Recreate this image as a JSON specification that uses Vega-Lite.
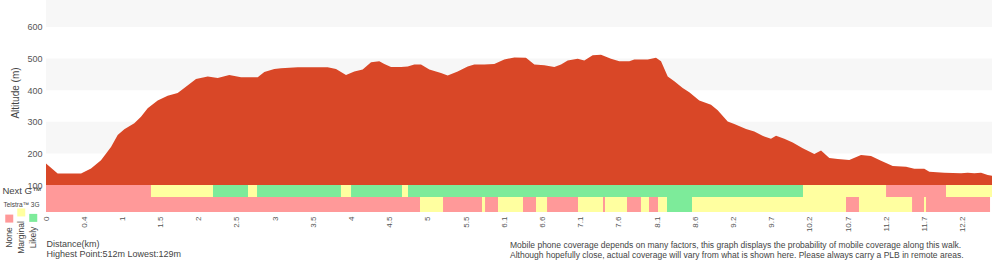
{
  "$schema": "https://vega.github.io/schema/vega-lite/v6.json",
  "padding": {"left": 1, "top": 0, "right": 5, "bottom": 0},
  "background": "white",
  "config": {
    "view": {"stroke": null},
    "font": "Liberation Sans",
    "axis": {"grid": false, "ticks": false, "domain": false},
    "axisY": {"labelOverlap": false}
  },
  "datasets": {
    "profile": [
      {"km": 0, "alt": 168}, {"km": 0.155, "alt": 136}, {"km": 0.466, "alt": 136}, {"km": 0.599, "alt": 152},
      {"km": 0.732, "alt": 178}, {"km": 0.865, "alt": 220}, {"km": 0.954, "alt": 258}, {"km": 1.042, "alt": 276},
      {"km": 1.175, "alt": 295}, {"km": 1.264, "alt": 316}, {"km": 1.353, "alt": 343}, {"km": 1.486, "alt": 367},
      {"km": 1.619, "alt": 382}, {"km": 1.752, "alt": 391}, {"km": 1.84, "alt": 407}, {"km": 1.996, "alt": 435},
      {"km": 2.152, "alt": 443}, {"km": 2.285, "alt": 438}, {"km": 2.439, "alt": 448}, {"km": 2.595, "alt": 441},
      {"km": 2.817, "alt": 441}, {"km": 2.905, "alt": 457}, {"km": 3.038, "alt": 467}, {"km": 3.127, "alt": 469},
      {"km": 3.349, "alt": 472}, {"km": 3.748, "alt": 472}, {"km": 3.859, "alt": 467}, {"km": 3.992, "alt": 448},
      {"km": 4.103, "alt": 459}, {"km": 4.214, "alt": 465}, {"km": 4.325, "alt": 488}, {"km": 4.435, "alt": 491},
      {"km": 4.502, "alt": 483}, {"km": 4.591, "alt": 473}, {"km": 4.724, "alt": 473}, {"km": 4.813, "alt": 475},
      {"km": 4.901, "alt": 481}, {"km": 4.99, "alt": 481}, {"km": 5.101, "alt": 465}, {"km": 5.256, "alt": 454},
      {"km": 5.345, "alt": 446}, {"km": 5.478, "alt": 459}, {"km": 5.611, "alt": 475}, {"km": 5.699, "alt": 481},
      {"km": 5.832, "alt": 481}, {"km": 5.965, "alt": 483}, {"km": 6.098, "alt": 497}, {"km": 6.232, "alt": 503},
      {"km": 6.387, "alt": 502}, {"km": 6.498, "alt": 481}, {"km": 6.631, "alt": 479}, {"km": 6.764, "alt": 473},
      {"km": 6.853, "alt": 481}, {"km": 6.942, "alt": 494}, {"km": 7.075, "alt": 499}, {"km": 7.163, "alt": 494},
      {"km": 7.274, "alt": 510}, {"km": 7.385, "alt": 512}, {"km": 7.518, "alt": 499}, {"km": 7.629, "alt": 491},
      {"km": 7.762, "alt": 491}, {"km": 7.828, "alt": 497}, {"km": 8.007, "alt": 497}, {"km": 8.117, "alt": 502},
      {"km": 8.184, "alt": 491}, {"km": 8.273, "alt": 443}, {"km": 8.361, "alt": 428}, {"km": 8.472, "alt": 407},
      {"km": 8.56, "alt": 393}, {"km": 8.693, "alt": 367}, {"km": 8.849, "alt": 354}, {"km": 8.938, "alt": 336},
      {"km": 9.071, "alt": 301}, {"km": 9.159, "alt": 293}, {"km": 9.315, "alt": 277}, {"km": 9.425, "alt": 269},
      {"km": 9.558, "alt": 253}, {"km": 9.647, "alt": 246}, {"km": 9.714, "alt": 256}, {"km": 9.824, "alt": 246},
      {"km": 9.936, "alt": 234}, {"km": 10.069, "alt": 216}, {"km": 10.224, "alt": 198}, {"km": 10.313, "alt": 209},
      {"km": 10.423, "alt": 185}, {"km": 10.535, "alt": 182}, {"km": 10.689, "alt": 179}, {"km": 10.845, "alt": 195},
      {"km": 10.978, "alt": 192}, {"km": 11.111, "alt": 177}, {"km": 11.267, "alt": 160}, {"km": 11.444, "alt": 158},
      {"km": 11.554, "alt": 151}, {"km": 11.687, "alt": 151}, {"km": 11.754, "alt": 142}, {"km": 11.953, "alt": 139},
      {"km": 12.176, "alt": 137}, {"km": 12.265, "alt": 139}, {"km": 12.353, "alt": 137}, {"km": 12.442, "alt": 139},
      {"km": 12.531, "alt": 132}, {"km": 12.588, "alt": 129}
    ],
    "bands": [{"lo": 200, "hi": 300}, {"lo": 400, "hi": 500}, {"lo": 600, "hi": 685}],
    "coverage": [
      {"net": "Next G™", "status": "None", "start": 0, "end": 1.397},
      {"net": "Next G™", "status": "Marginal", "start": 1.397, "end": 2.222},
      {"net": "Next G™", "status": "Likely", "start": 2.222, "end": 2.688},
      {"net": "Next G™", "status": "Marginal", "start": 2.688, "end": 2.808},
      {"net": "Next G™", "status": "Likely", "start": 2.808, "end": 3.925},
      {"net": "Next G™", "status": "Marginal", "start": 3.925, "end": 4.059},
      {"net": "Next G™", "status": "Likely", "start": 4.059, "end": 4.737},
      {"net": "Next G™", "status": "Marginal", "start": 4.737, "end": 4.817},
      {"net": "Next G™", "status": "Likely", "start": 4.817, "end": 10.073},
      {"net": "Next G™", "status": "Marginal", "start": 10.073, "end": 11.178},
      {"net": "Next G™", "status": "None", "start": 11.178, "end": 11.976},
      {"net": "Next G™", "status": "Marginal", "start": 11.976, "end": 12.588},
      {"net": "Telstra™ 3G", "status": "None", "start": 0, "end": 4.977},
      {"net": "Telstra™ 3G", "status": "Marginal", "start": 4.977, "end": 5.283},
      {"net": "Telstra™ 3G", "status": "None", "start": 5.283, "end": 5.802},
      {"net": "Telstra™ 3G", "status": "Marginal", "start": 5.802, "end": 5.842},
      {"net": "Telstra™ 3G", "status": "None", "start": 5.842, "end": 6.015},
      {"net": "Telstra™ 3G", "status": "Marginal", "start": 6.015, "end": 6.347},
      {"net": "Telstra™ 3G", "status": "None", "start": 6.347, "end": 6.52},
      {"net": "Telstra™ 3G", "status": "Marginal", "start": 6.52, "end": 6.667},
      {"net": "Telstra™ 3G", "status": "None", "start": 6.667, "end": 7.079},
      {"net": "Telstra™ 3G", "status": "Marginal", "start": 7.079, "end": 7.412},
      {"net": "Telstra™ 3G", "status": "None", "start": 7.412, "end": 7.439},
      {"net": "Telstra™ 3G", "status": "Marginal", "start": 7.439, "end": 7.731},
      {"net": "Telstra™ 3G", "status": "None", "start": 7.731, "end": 7.917},
      {"net": "Telstra™ 3G", "status": "Marginal", "start": 7.917, "end": 8.024},
      {"net": "Telstra™ 3G", "status": "None", "start": 8.024, "end": 8.144},
      {"net": "Telstra™ 3G", "status": "Marginal", "start": 8.144, "end": 8.263},
      {"net": "Telstra™ 3G", "status": "Likely", "start": 8.263, "end": 8.596},
      {"net": "Telstra™ 3G", "status": "Marginal", "start": 8.596, "end": 10.645},
      {"net": "Telstra™ 3G", "status": "None", "start": 10.645, "end": 10.818},
      {"net": "Telstra™ 3G", "status": "Marginal", "start": 10.818, "end": 11.524},
      {"net": "Telstra™ 3G", "status": "None", "start": 11.524, "end": 11.683},
      {"net": "Telstra™ 3G", "status": "Marginal", "start": 11.683, "end": 11.71},
      {"net": "Telstra™ 3G", "status": "None", "start": 11.71, "end": 12.562}
    ]
  },
  "spacing": 0,
  "bounds": "flush",
  "resolve": {"legend": {"color": "independent"}, "scale": {"color": "shared"}},
  "vconcat": [
    {
      "width": 946,
      "height": 185,
      "layer": [
        {
          "data": {"name": "bands"},
          "mark": {"type": "rect", "color": "#f7f7f7"},
          "encoding": {
            "y": {
              "field": "lo", "type": "quantitative",
              "scale": {"domain": [100, 685], "zero": false, "nice": false},
              "axis": {
                "values": [100, 200, 300, 400, 500, 600],
                "title": "Altitude (m)", "labelOverlap": false,
                "titleFontSize": 10, "titleFontWeight": "normal", "titleColor": "#444",
                "labelFontSize": 9, "labelColor": "#555", "labelPadding": 4, "titlePadding": 6
              }
            },
            "y2": {"field": "hi"}
          }
        },
        {
          "data": {"name": "profile"},
          "mark": {"type": "area", "color": "#d94727", "clip": true, "opacity": 1},
          "encoding": {
            "x": {"field": "km", "type": "quantitative", "scale": {"domain": [0, 12.588], "nice": false, "zero": false}, "axis": null},
            "y": {"field": "alt", "type": "quantitative",
              "scale": {"domain": [100, 685], "zero": false, "nice": false},
              "axis": {
                "values": [100, 200, 300, 400, 500, 600],
                "title": "Altitude (m)", "labelOverlap": false,
                "titleFontSize": 10, "titleFontWeight": "normal", "titleColor": "#444",
                "labelFontSize": 9, "labelColor": "#555", "labelPadding": 4, "titlePadding": 6
              }
            }
          }
        }
      ]
    },
    {
      "width": 946,
      "height": 12,
      "data": {"name": "coverage"},
      "transform": [{"filter": "datum.net == 'Next G™'"}],
      "mark": {"type": "rect"},
      "encoding": {
        "x": {"field": "start", "type": "quantitative", "scale": {"domain": [0, 12.588], "nice": false, "zero": false}, "axis": null},
        "x2": {"field": "end"},
        "y": {"field": "net", "type": "nominal", "title": null, "scale": {"paddingInner": 0, "paddingOuter": 0},
              "axis": {"labelFontSize": 9.5, "labelColor": "#444", "labelPadding": 5}},
        "color": {"field": "status", "type": "nominal",
                  "scale": {"domain": ["None", "Marginal", "Likely"], "range": ["#ff9999", "#ffffa0", "#7deb9a"]},
                  "legend": null}
      }
    },
    {
      "width": 946,
      "height": 15,
      "data": {"name": "coverage"},
      "transform": [{"filter": "datum.net == 'Telstra™ 3G'"}],
      "title": {
        "text": ["Mobile phone coverage depends on many factors, this graph displays the probability of mobile coverage along this walk.",
                 "Although hopefully close, actual coverage will vary from what is shown here. Please always carry a PLB in remote areas."],
        "orient": "bottom", "anchor": "start", "align": "left", "dx": 464, "offset": -18,
        "fontSize": 8.5, "fontWeight": "normal", "color": "#444", "lineHeight": 10.5, "baseline": "top", "frame": "group"
      },
      "mark": {"type": "rect"},
      "encoding": {
        "x": {"field": "start", "type": "quantitative", "scale": {"domain": [0, 12.588], "nice": false, "zero": false},
              "axis": {
                "values": [0, 0.5083, 1.0166, 1.5249, 2.0332, 2.5415, 3.0498, 3.5581, 4.0664, 4.5747, 5.083, 5.5913, 6.0996, 6.6079, 7.1162, 7.6245, 8.1328, 8.6411, 9.1494, 9.6577, 10.166, 10.6743, 11.1826, 11.6909, 12.1992],
                "labelExpr": "['0','0.4','1','1.5','2','2.5','3','3.5','4','4.5','5','5.5','6.1','6.6','7.1','7.6','8.1','8.6','9.2','9.7','10.2','10.7','11.2','11.7','12.2'][round(datum.value/0.5083)]",
                "labelAngle": 270, "labelAlign": "right", "labelBaseline": "middle",
                "labelFontSize": 8, "labelColor": "#555", "labelPadding": 4, "labelOverlap": false,
                "title": ["Distance(km)", "Highest Point:512m Lowest:129m"],
                "titleFontSize": 9, "titleFontWeight": "normal", "titleColor": "#444",
                "titleAnchor": "start", "titleAlign": "left", "titleBaseline": "top",
                "titleX": 0, "titleY": 27, "titleLineHeight": 10.5
              }},
        "x2": {"field": "end"},
        "y": {"field": "net", "type": "nominal", "title": null, "scale": {"paddingInner": 0, "paddingOuter": 0},
              "axis": {"labelFontSize": 6.5, "labelColor": "#444", "labelPadding": 7}},
        "color": {"field": "status", "type": "nominal",
                  "scale": {"domain": ["None", "Marginal", "Likely"], "range": ["#ff9999", "#ffffa0", "#7deb9a"]},
                  "legend": {
                    "orient": "none", "legendX": -41, "legendY": 11, "direction": "horizontal",
                    "title": null, "symbolType": "square", "symbolSize": 64, "symbolStrokeWidth": 0,
                    "labelFontSize": 8.5, "labelColor": "#444", "padding": 0, "columnPadding": 3,
                    "encoding": {"labels": {"angle": {"value": 270}, "align": {"value": "right"}, "baseline": {"value": "middle"}, "x": {"value": 4}, "y": {"value": 13}}}
                  }}
      }
    }
  ]
}
